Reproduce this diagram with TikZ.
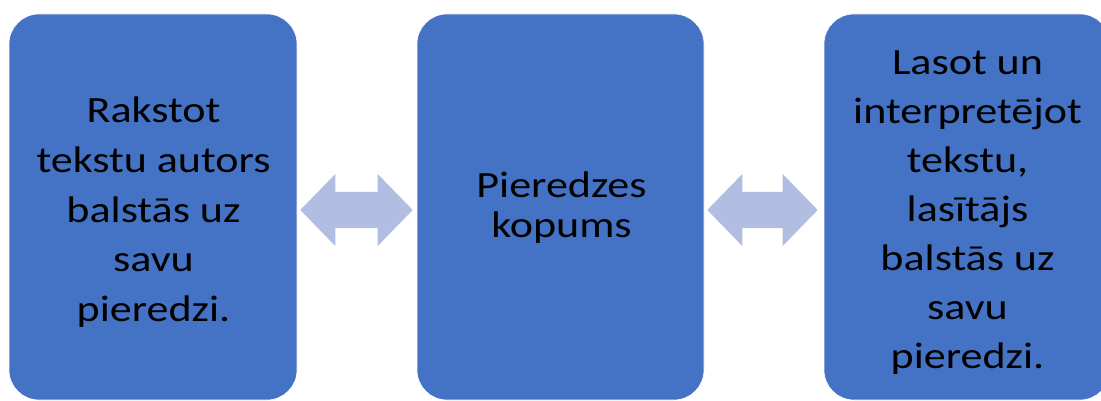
\documentclass[tikz,border=0pt]{standalone}
\usepackage{fontspec}
\setmainfont{Carlito}
\newfontfamily\stagefont[FakeStretch=1.19]{Carlito}
\usetikzlibrary{calc}
\definecolor{boxblue}{RGB}{68,114,196}
\definecolor{arrowblue}{RGB}{178,190,225}
\tikzset{
  stagebox/.style={draw=white, line width=0.6pt, fill=boxblue, rounded corners=30pt,
    minimum width=#1, minimum height=386pt, inner sep=0pt},
  stagetext/.style={anchor=base, align=center, inner sep=0pt, text=black,
    font=\stagefont\fontsize{37}{#1}\selectfont},
  linkarrow/.style={fill=arrowblue},
}
% double-headed block arrow between two points on one horizontal line
\newcommand\blockarrow[2]{%
  \fill[linkarrow] let \p1=(#1), \p2=(#2) in
    (\x1,\y1) -- ({\x1+35pt},{\y1+36pt}) -- ({\x1+35pt},{\y1+18pt})
    -- ({\x2-35pt},{\y2+18pt}) -- ({\x2-35pt},{\y2+36pt}) -- (\x2,\y2)
    -- ({\x2-35pt},{\y2-36pt}) -- ({\x2-35pt},{\y2-18pt})
    -- ({\x1+35pt},{\y1-18pt}) -- ({\x1+35pt},{\y1-36pt}) -- cycle;}
\begin{document}
\begin{tikzpicture}[x=1pt,y=-1pt]
  \useasboundingbox (0,0) rectangle (1101,401);
  % the three stages
  \node[stagebox=288pt] (author) at (153,207) {};
  \node[stagebox=287pt] (pool)   at (560.5,207) {};
  \node[stagebox=286pt] (reader) at (967,207) {};
  % texts are placed by the baseline of their last line
  \node[stagetext=49.85] (authortext) at (153.5,321.7)
    {Rakstot\\tekstu autors\\balstās uz\\savu\\pieredzi.};
  \node[stagetext=40] (pooltext) at (561.5,237)
    {Pieredzes\\kopums};
  \node[stagetext=49] (readertext) at (967.5,368)
    {Lasot un\\interpretējot\\tekstu,\\lasītājs\\balstās uz\\savu\\pieredzi.};
  % links between the stages
  \coordinate (a1) at ($(author.east)+(3,3)$);
  \coordinate (a2) at ($(pool.west)+(-4,3)$);
  \coordinate (b1) at ($(pool.east)+(3,3)$);
  \coordinate (b2) at ($(reader.west)+(-6,3)$);
  \blockarrow{a1}{a2}
  \blockarrow{b1}{b2}
\end{tikzpicture}
\end{document}
